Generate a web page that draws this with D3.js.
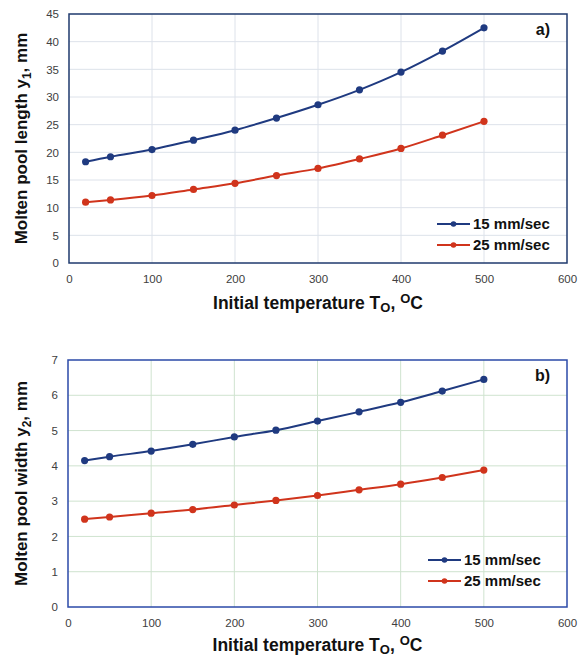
<!DOCTYPE html>
<html>
<head>
<meta charset="utf-8">
<script src="https://cdn.jsdelivr.net/npm/d3@7"></script>
<style>
  body { margin: 0; background: #fff; }
  svg { display: block; font-family: "Liberation Sans", Arial, sans-serif; }
  .tick text { font-size: 11.5px; fill: #404040; }
  .ttl { font-weight: bold; fill: #111; }
</style>
</head>
<body>
<svg id="chart" width="582" height="658"></svg>
<script>
// initial temperature, degC
const temps = [20, 50, 100, 150, 200, 250, 300, 350, 400, 450, 500];
// panel a) molten pool length y1, mm
const lenSlow = [18.3, 19.2, 20.5, 22.2, 24.0, 26.2, 28.6, 31.3, 34.5, 38.3, 42.5];
const lenFast = [11.0, 11.4, 12.2, 13.3, 14.4, 15.8, 17.1, 18.8, 20.7, 23.1, 25.6];
// panel b) molten pool width y2, mm
const widSlow = [4.15, 4.26, 4.42, 4.61, 4.82, 5.01, 5.27, 5.53, 5.80, 6.12, 6.45];
const widFast = [2.49, 2.55, 2.66, 2.76, 2.89, 3.02, 3.16, 3.32, 3.48, 3.67, 3.88];
const seriesNames = ['15 mm/sec', '25 mm/sec'];
const xTicks = [0, 100, 200, 300, 400, 500, 600];

const BLUE = '#1f3a80', RED = '#d0341c';
const svg = d3.select('#chart');

function panel(o) {
  const g = svg.append('g');
  const x = d3.scaleLinear().domain([0, 600]).range([o.left, o.right]);
  const y = d3.scaleLinear().domain([0, o.ymax]).range([o.bottom, o.top]);

  // gridlines
  g.append('g').selectAll('line.v').data(xTicks.slice(1, -1)).join('line')
    .attr('x1', x).attr('x2', x).attr('y1', o.top).attr('y2', o.bottom)
    .attr('stroke', o.grid).attr('stroke-width', 1);
  g.append('g').selectAll('line.h').data(d3.range(o.ystep, o.ymax, o.ystep)).join('line')
    .attr('y1', y).attr('y2', y).attr('x1', o.left).attr('x2', o.right)
    .attr('stroke', o.grid).attr('stroke-width', 1);

  // axes (labels only, frame drawn separately)
  const ax = g.append('g').attr('transform', `translate(0,${o.bottom})`)
    .call(d3.axisBottom(x).tickValues(xTicks).tickSize(0).tickPadding(12));
  ax.select('.domain').remove();
  const ay = g.append('g').attr('transform', `translate(${o.left},0)`)
    .call(d3.axisLeft(y).tickValues(d3.range(0, o.ymax + 0.01, o.ystep))
      .tickFormat(d3.format('d')).tickSize(0).tickPadding(10));
  ay.select('.domain').remove();

  g.append('rect').attr('x', o.left).attr('y', o.top)
    .attr('width', o.right - o.left).attr('height', o.bottom - o.top)
    .attr('fill', 'none').attr('stroke', o.frame).attr('stroke-width', 1.5);

  const line = d3.line().x((d, i) => x(temps[i])).y((d) => y(d)).curve(d3.curveMonotoneX);
  [[o.s1, BLUE], [o.s2, RED]].forEach(([vals, c]) => {
    g.append('path').datum(vals).attr('d', line).attr('fill', 'none')
      .attr('stroke', c).attr('stroke-width', 2);
    g.append('g').selectAll('circle').data(vals).join('circle')
      .attr('cx', (d, i) => x(temps[i])).attr('cy', y).attr('r', 3.6).attr('fill', c);
  });

  // panel tag
  g.append('text').attr('class', 'ttl').attr('x', o.right - 17).attr('y', o.top + 21)
    .attr('text-anchor', 'end').style('font-size', '16px').text(o.tag);

  // legend
  seriesNames.forEach((n, i) => {
    const ly = o.legY + i * 21;
    const lg = g.append('g');
    lg.append('line').attr('x1', o.legX).attr('x2', o.legX + 33).attr('y1', ly).attr('y2', ly)
      .attr('stroke', i ? RED : BLUE).attr('stroke-width', 2);
    lg.append('circle').attr('cx', o.legX + 16.5).attr('cy', ly).attr('r', 2.8).attr('fill', i ? RED : BLUE);
    lg.append('text').attr('x', o.legX + 36).attr('y', ly + 5).style('font-size', '15px')
      .style('font-weight', 'bold').attr('fill', '#111').text(n);
  });

  // x title
  const xt = g.append('text').attr('class', 'ttl').attr('x', (o.left + o.right) / 2)
    .attr('y', o.bottom + o.xty).attr('text-anchor', 'middle').style('font-size', '17.5px');
  xt.append('tspan').text('Initial temperature T');
  xt.append('tspan').attr('dy', 3).style('font-size', '13px').text('O');
  xt.append('tspan').attr('dy', -3).text(', ');
  xt.append('tspan').attr('dy', -6).style('font-size', '13px').text('O');
  xt.append('tspan').attr('dy', 6).text('C');

  // y title
  const yt = g.append('text').attr('class', 'ttl')
    .attr('transform', `translate(${o.ytx},${(o.top + o.bottom) / 2}) rotate(-90)`)
    .attr('text-anchor', 'middle').style('font-size', '17px');
  yt.append('tspan').text(o.ylab);
  yt.append('tspan').attr('dy', 4).style('font-size', '12px').text(o.ysub);
  yt.append('tspan').attr('dy', -4).text(', mm');
}

panel({ left: 69, right: 567, top: 14, bottom: 263, ymax: 45, ystep: 5,
  grid: '#dde2ea', frame: '#1f3a6e', s1: lenSlow, s2: lenFast, tag: 'a)',
  legX: 437, legY: 224, ytx: 27, xty: 46, ylab: 'Molten pool length y', ysub: '1' });
panel({ left: 68, right: 567, top: 360, bottom: 607, ymax: 7, ystep: 1,
  grid: '#cfe3cf', frame: '#2b4aa8', s1: widSlow, s2: widFast, tag: 'b)',
  legX: 428, legY: 560, ytx: 27, xty: 44, ylab: 'Molten pool width y', ysub: '2' });
</script>
</body>
</html>
